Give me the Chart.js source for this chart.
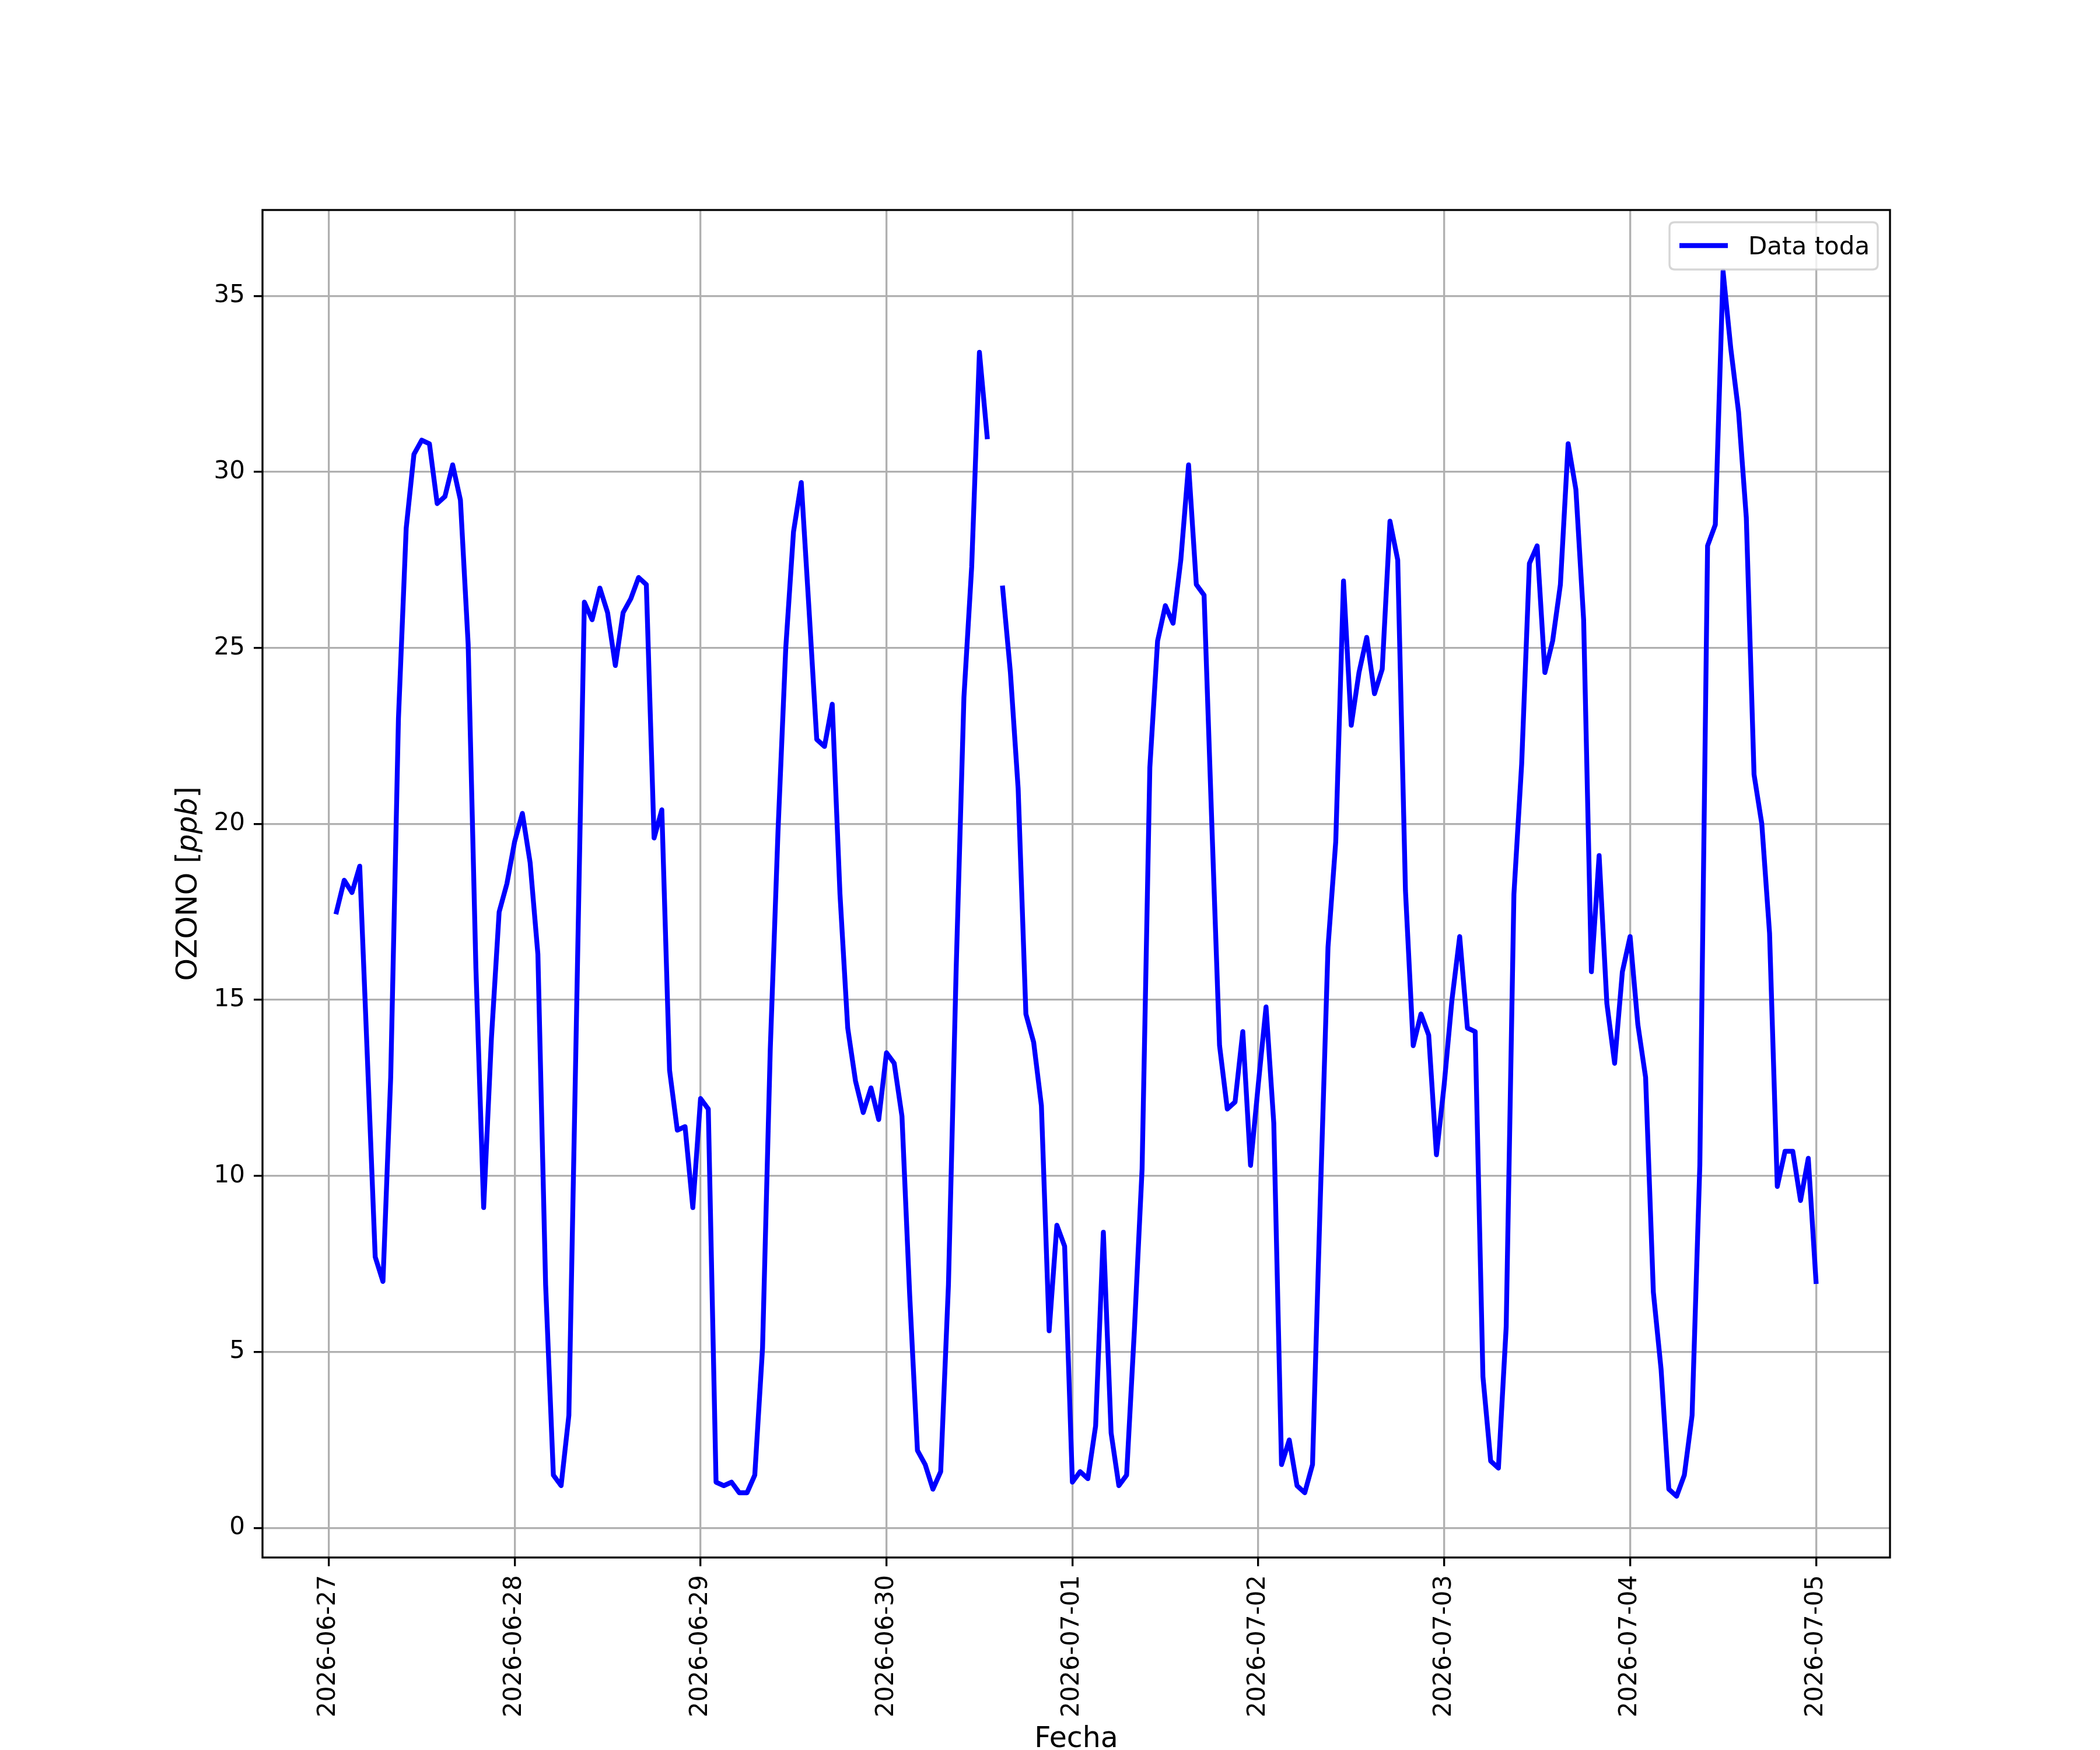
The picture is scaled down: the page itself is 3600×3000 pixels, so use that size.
<!DOCTYPE html>
<html>
<head>
<meta charset="utf-8">
<script src="https://cdn.jsdelivr.net/npm/chart.js@4.4.1/dist/chart.umd.min.js"></script>
<style>
  html, body { margin: 0; padding: 0; background: #ffffff; }
  #wrap { width: 3600px; height: 3000px; }
</style>
</head>
<body>
<div id="wrap"><canvas id="c" width="3600" height="3000" style="width:3600px;height:3000px"></canvas></div>
<script>
// ---- data (hourly ozone, first sample 2026-06-27 01:00) ----
const seriesLabel = 'Data toda';
const firstHour = 1; // hours after 2026-06-27 00:00
const ozone = [
  // 2026-06-27 01..23
  17.5, 18.4, 18.05, 18.8, 13.3, 7.7, 7.0, 12.8, 23.0, 28.4, 30.5, 30.9, 30.8, 29.1, 29.3, 30.2, 29.2, 25.1, 15.9, 9.1, 13.9, 17.5, 18.3,
  // 2026-06-28 00..23
  19.5, 20.3, 18.9, 16.3, 6.9, 1.5, 1.2, 3.2, 14.7, 26.3, 25.8, 26.7, 26.0, 24.5, 26.0, 26.4, 27.0, 26.8, 19.6, 20.4, 13.0, 11.3, 11.4, 9.1,
  // 2026-06-29
  12.2, 11.9, 1.3, 1.2, 1.3, 1.0, 1.0, 1.5, 5.1, 13.6, 19.8, 25.0, 28.3, 29.7, 26.1, 22.4, 22.2, 23.4, 18.0, 14.2, 12.7, 11.8, 12.5, 11.6,
  // 2026-06-30
  13.5, 13.2, 11.7, 6.6, 2.2, 1.8, 1.1, 1.6, 6.9, 15.9, 23.6, 27.3, 33.4, 31.0, null, 26.7, 24.3, 21.0, 14.6, 13.8, 12.0, 5.6, 8.6, 8.0,
  // 2026-07-01
  1.3, 1.6, 1.4, 2.9, 8.4, 2.7, 1.2, 1.5, 5.6, 10.2, 21.6, 25.2, 26.2, 25.7, 27.5, 30.2, 26.8, 26.5, 20.0, 13.7, 11.9, 12.1, 14.1, 10.3,
  // 2026-07-02
  12.6, 14.8, 11.5, 1.8, 2.5, 1.2, 1.0, 1.8, 9.3, 16.5, 19.5, 26.9, 22.8, 24.3, 25.3, 23.7, 24.4, 28.6, 27.5, 18.1, 13.7, 14.6, 14.0, 10.6,
  // 2026-07-03
  12.6, 15.0, 16.8, 14.2, 14.1, 4.3, 1.9, 1.7, 5.7, 18.0, 21.7, 27.4, 27.9, 24.3, 25.2, 26.8, 30.8, 29.5, 25.8, 15.8, 19.1, 14.9, 13.2, 15.8,
  // 2026-07-04
  16.8, 14.3, 12.8, 6.7, 4.5, 1.1, 0.9, 1.5, 3.2, 10.3, 27.9, 28.5, 35.7, 33.5, 31.7, 28.7, 21.4, 20.0, 16.9, 9.7, 10.7, 10.7, 9.3, 10.5,
  // 2026-07-05 00
  7.0
];
const xTickHours = [0, 24, 48, 72, 96, 120, 144, 168, 192];
const xTickLabels = ['2026-06-27', '2026-06-28', '2026-06-29', '2026-06-30', '2026-07-01', '2026-07-02', '2026-07-03', '2026-07-04', '2026-07-05'];
const yTicks = [0, 5, 10, 15, 20, 25, 30, 35];
const xTitle = 'Fecha';
const yTitleParts = [['OZONO [', false], ['ppb', true], [']', false]];

// ---- build ----
const points = ozone.map((v, i) => ({ x: firstHour + i, y: v }));
const FS = 42;   // tick / legend font (10pt @300dpi)
const TFS = 49;  // axis title font
const FONT = '"DejaVu Sans", "Liberation Sans", sans-serif';

const decor = {
  id: 'decor',
  afterDatasetsDraw(chart) {
    const ctx = chart.ctx, a = chart.chartArea;
    ctx.save();
    // spines
    ctx.strokeStyle = '#000000';
    ctx.lineWidth = 3.33;
    ctx.lineJoin = 'miter';
    ctx.strokeRect(a.left, a.top, a.right - a.left, a.bottom - a.top);
    // legend
    const bx = 2862, by = 381, bw = 3219 - 2862, bh = 462 - 381, r = 9;
    ctx.beginPath();
    ctx.moveTo(bx + r, by);
    ctx.lineTo(bx + bw - r, by); ctx.quadraticCurveTo(bx + bw, by, bx + bw, by + r);
    ctx.lineTo(bx + bw, by + bh - r); ctx.quadraticCurveTo(bx + bw, by + bh, bx + bw - r, by + bh);
    ctx.lineTo(bx + r, by + bh); ctx.quadraticCurveTo(bx, by + bh, bx, by + bh - r);
    ctx.lineTo(bx, by + r); ctx.quadraticCurveTo(bx, by, bx + r, by);
    ctx.closePath();
    ctx.fillStyle = 'rgba(255,255,255,0.8)';
    ctx.fill();
    ctx.strokeStyle = 'rgba(204,204,204,0.8)';
    ctx.lineWidth = 3.33;
    ctx.stroke();
    const ds = chart.data.datasets[0];
    ctx.beginPath();
    ctx.moveTo(2879, 421); ctx.lineTo(2962, 421);
    ctx.strokeStyle = ds.borderColor; ctx.lineWidth = ds.borderWidth; ctx.lineCap = 'butt';
    ctx.stroke();
    ctx.fillStyle = '#000000';
    ctx.font = FS + 'px ' + FONT;
    ctx.textAlign = 'left'; ctx.textBaseline = 'alphabetic';
    ctx.fillText(ds.label, 2997, 436);
    ctx.restore();
  },
  afterDraw(chart) {
    const ctx = chart.ctx, a = chart.chartArea;
    ctx.save();
    ctx.fillStyle = '#000000';
    // x title
    ctx.font = TFS + 'px ' + FONT;
    ctx.textAlign = 'center'; ctx.textBaseline = 'alphabetic';
    ctx.fillText(xTitle, (a.left + a.right) / 2, 2995);
    // y title (mixed normal / italic), rotated
    ctx.translate(337, (a.top + a.bottom) / 2);
    ctx.rotate(-Math.PI / 2);
    let total = 0;
    const widths = yTitleParts.map(([t, it]) => {
      ctx.font = (it ? 'italic ' : '') + TFS + 'px ' + FONT;
      const w = ctx.measureText(t).width; total += w; return w;
    });
    let x = -total / 2;
    ctx.textAlign = 'left';
    yTitleParts.forEach(([t, it], i) => {
      ctx.font = (it ? 'italic ' : '') + TFS + 'px ' + FONT;
      ctx.fillText(t, x, 0);
      x += widths[i];
    });
    ctx.restore();
  }
};

new Chart(document.getElementById('c'), {
  type: 'line',
  data: {
    datasets: [{
      label: seriesLabel,
      data: points,
      borderColor: '#0000ff',
      backgroundColor: '#0000ff',
      borderWidth: 8.33,
      pointRadius: 0,
      pointHoverRadius: 0,
      tension: 0,
      spanGaps: false,
      fill: false,
      borderJoinStyle: 'round',
      borderCapStyle: 'square'
    }]
  },
  options: {
    responsive: false,
    animation: false,
    devicePixelRatio: 1,
    layout: { padding: { top: 360, right: 360, left: 0, bottom: 0 } },
    plugins: { legend: { display: false }, tooltip: { enabled: false }, title: { display: false } },
    scales: {
      x: {
        type: 'linear',
        min: -8.55,
        max: 201.55,
        afterBuildTicks(scale) { scale.ticks = xTickHours.map(v => ({ value: v })); },
        afterFit(scale) { scale.height = 330; },
        ticks: {
          autoSkip: false,
          maxRotation: 90,
          minRotation: 90,
          padding: 15,
          color: '#000000',
          font: { family: FONT, size: FS },
          callback(v, i) { return xTickLabels[i]; }
        },
        grid: {
          color: '#b0b0b0',
          lineWidth: 3.33,
          tickLength: 15,
          tickColor: '#000000',
          tickWidth: 3.33,
          drawOnChartArea: true
        },
        border: { display: false }
      },
      y: {
        type: 'linear',
        min: -0.84,
        max: 37.44,
        afterBuildTicks(scale) { scale.ticks = yTicks.map(v => ({ value: v })); },
        afterFit(scale) { scale.width = 450; },
        ticks: {
          padding: 15,
          color: '#000000',
          font: { family: FONT, size: FS },
          callback(v) { return String(v); }
        },
        grid: {
          color: '#b0b0b0',
          lineWidth: 3.33,
          tickLength: 15,
          tickColor: '#000000',
          tickWidth: 3.33
        },
        border: { display: false }
      }
    }
  },
  plugins: [decor]
});
</script>
</body>
</html>
